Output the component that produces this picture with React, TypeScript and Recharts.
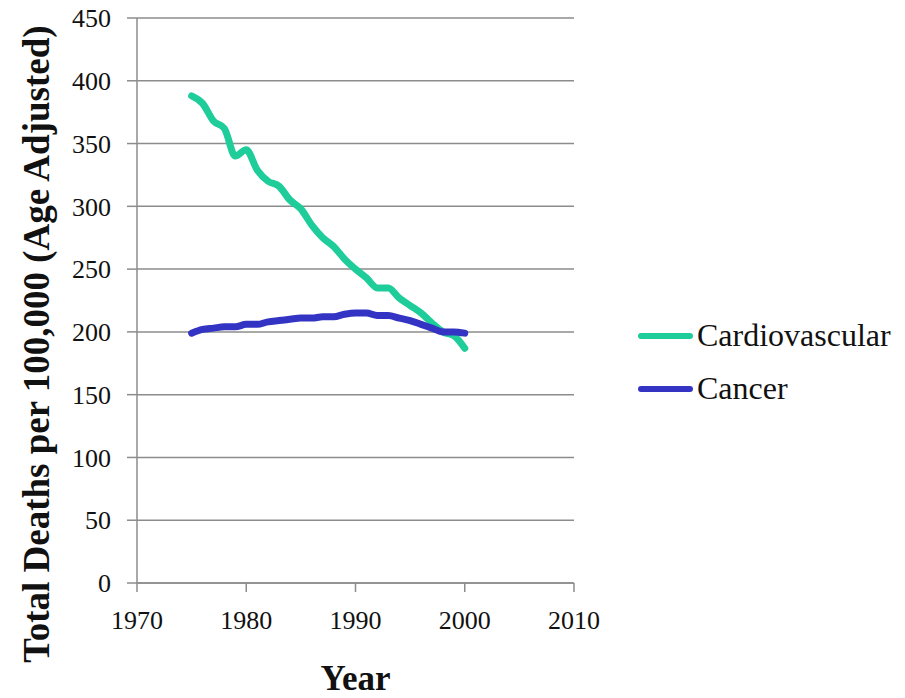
import React from "react";
import {
  CartesianGrid,
  Legend,
  Line,
  LineChart,
  XAxis,
  YAxis,
} from "recharts";

const YEARS = [
  1975, 1976, 1977, 1978, 1979, 1980, 1981, 1982, 1983, 1984, 1985, 1986, 1987,
  1988, 1989, 1990, 1991, 1992, 1993, 1994, 1995, 1996, 1997, 1998, 1999, 2000,
];

const CARDIOVASCULAR = [
  388, 382, 368, 362, 340, 345, 329, 320, 316, 305, 298, 285, 275, 268, 258,
  250, 243, 235, 235, 227, 221, 215, 207, 200, 197, 187,
];

const CANCER = [
  199, 202, 203, 204, 204, 206, 206, 208, 209, 210, 211, 211, 212, 212, 214,
  215, 215, 213, 213, 211, 209, 206, 203, 200, 200, 199,
];

const X_TICKS = [1970, 1980, 1990, 2000, 2010];
const Y_TICKS = [0, 50, 100, 150, 200, 250, 300, 350, 400, 450];

const SERIES = [
  { key: "cardio", name: "Cardiovascular", color: "#1fcd9a" },
  { key: "cancer", name: "Cancer", color: "#3434c4" },
];

const FONT = '"Liberation Serif", "Times New Roman", serif';
const GRID = "#8c8c8c";

const data = YEARS.map((year, i) => ({
  year,
  cardio: CARDIOVASCULAR[i],
  cancer: CANCER[i],
}));

function LegendBox() {
  return (
    <div style={{ position: "absolute", left: 638, top: 309, fontFamily: FONT }}>
      {SERIES.map((s) => (
        <div
          key={s.key}
          style={{ display: "flex", alignItems: "center", height: 53 }}
        >
          <div
            style={{
              width: 55,
              height: 6,
              borderRadius: 3,
              background: s.color,
              marginRight: 4,
            }}
          />
          <span style={{ fontSize: 32, color: "#111" }}>{s.name}</span>
        </div>
      ))}
    </div>
  );
}

export default function App() {
  return (
    <div style={{ position: "absolute", left: 0, top: 0, background: "#fff" }}>
      <LineChart
        width={905}
        height={698}
        data={data}
        margin={{ top: 18, right: 331, left: 0, bottom: 0 }}
      >
        <CartesianGrid vertical={false} stroke={GRID} strokeWidth={1.5} />
        <XAxis
          dataKey="year"
          type="number"
          domain={[1970, 2010]}
          ticks={X_TICKS}
          height={115}
          stroke={GRID}
          strokeWidth={1.5}
          tickSize={9}
          tickMargin={19}
          tick={{ fill: "#111", fontSize: 26, fontFamily: FONT }}
          label={({ viewBox }: any) => (
            <text
              x={viewBox.x + viewBox.width / 2}
              y={viewBox.y + viewBox.height - 8}
              textAnchor="middle"
              fontFamily={FONT}
              fontWeight="bold"
              fontSize={35}
              fill="#111"
            >
              Year
            </text>
          )}
        />
        <YAxis
          type="number"
          domain={[0, 450]}
          ticks={Y_TICKS}
          width={137}
          stroke={GRID}
          strokeWidth={1.5}
          tickSize={10}
          tickMargin={16}
          tick={{ fill: "#111", fontSize: 26, fontFamily: FONT }}
          label={() => (
            <text
              x={49}
              y={344}
              transform="rotate(-90, 49, 344)"
              textAnchor="middle"
              fontFamily={FONT}
              fontWeight="bold"
              fontSize={37}
              fill="#111"
            >
              Total Deaths per 100,000 (Age Adjusted)
            </text>
          )}
        />
        <Legend
          content={() => <LegendBox />}
          wrapperStyle={{ left: 0, top: 0, width: 0, height: 0, overflow: "visible" }}
        />
        {SERIES.map((s) => (
          <Line
            key={s.key}
            type="monotone"
            dataKey={s.key}
            name={s.name}
            stroke={s.color}
            strokeWidth={7}
            strokeLinecap="round"
            strokeLinejoin="round"
            dot={false}
            isAnimationActive={false}
          />
        ))}
      </LineChart>
    </div>
  );
}
